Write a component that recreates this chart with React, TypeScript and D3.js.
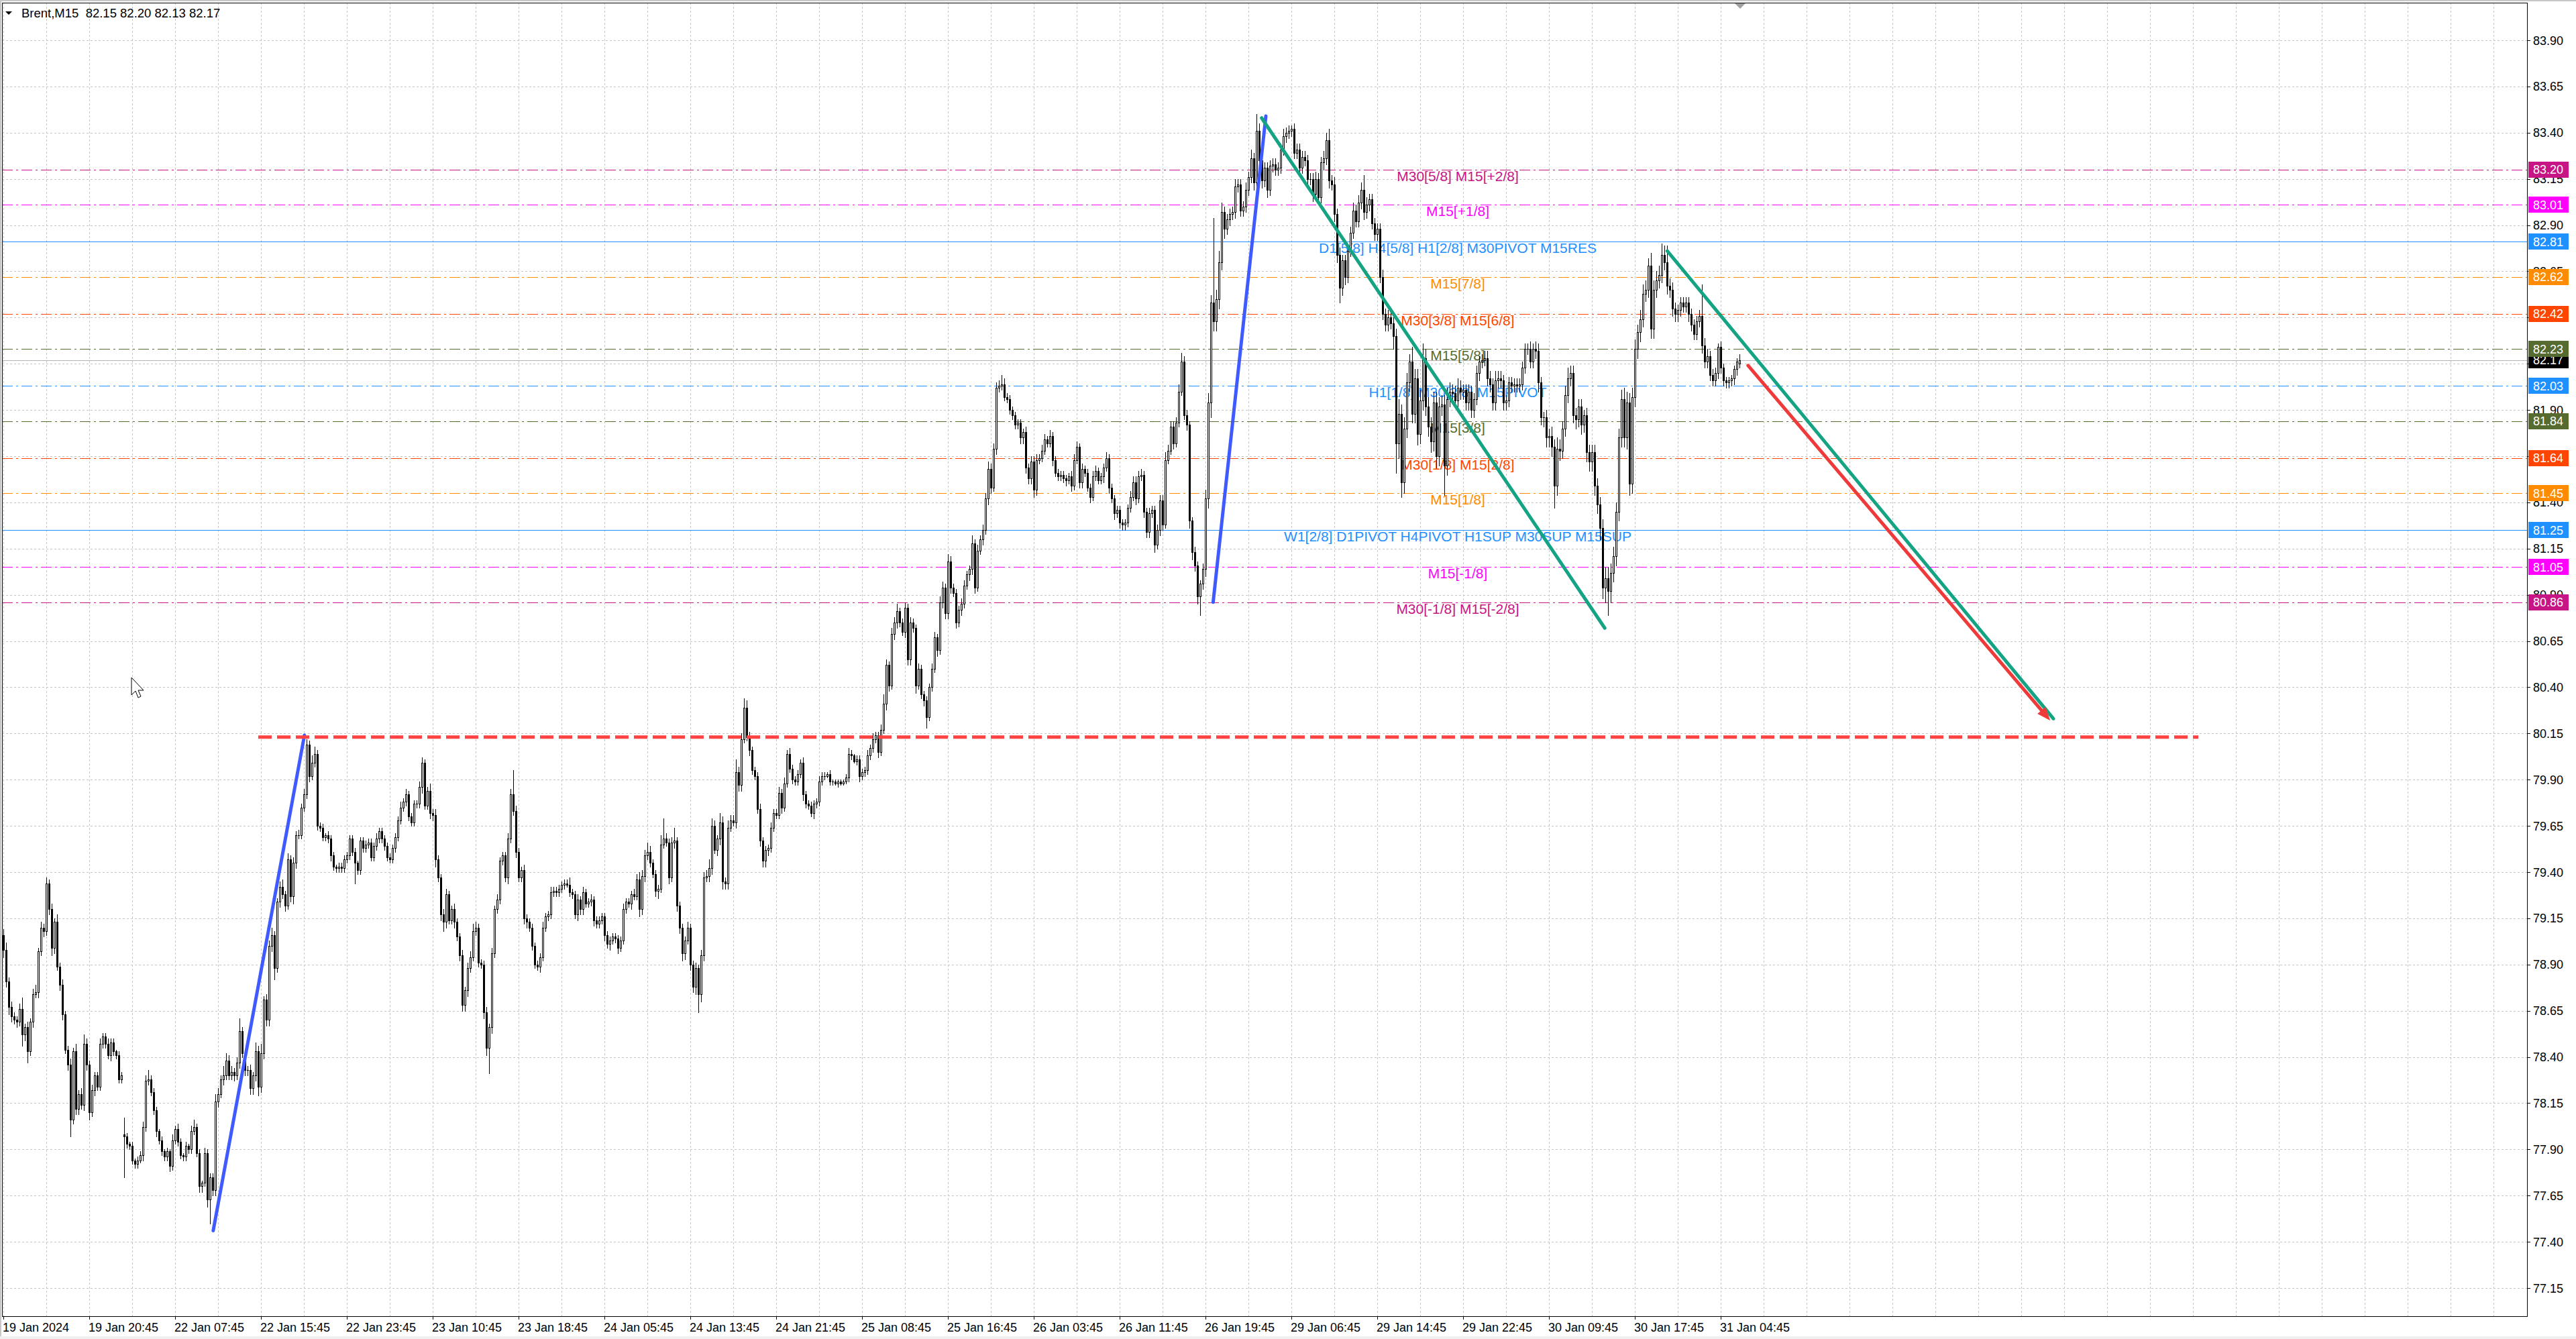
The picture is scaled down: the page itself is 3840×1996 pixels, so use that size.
import React from 'react';
import * as d3 from 'd3';

const W = 3840;
const H = 1996;

const headerText = 'Brent,M15  82.15 82.20 82.13 82.17';
const lastPrice = 82.17;

// M15 closes, one per bar
const closes = [
  78.98, 78.81, 78.67, 78.62, 78.60, 78.59, 78.66, 78.52, 78.56, 78.43, 78.59, 78.74, 78.75, 78.97, 79.10, 79.08,
  79.34, 79.20, 78.99, 79.13, 78.89, 78.79, 78.63, 78.44, 78.36, 78.06, 78.43, 78.12, 78.20, 78.14, 78.47, 78.36,
  78.10, 78.22, 78.30, 78.24, 78.47, 78.51, 78.47, 78.41, 78.48, 78.43, 78.41, 78.28, 78.30, 77.97, 77.93, 77.92,
  77.84, 77.82, 77.84, 77.87, 78.02, 78.27, 78.28, 78.21, 78.11, 78.00, 77.95, 77.89, 77.86, 77.89, 77.81, 77.95,
  78.01, 77.94, 77.87, 77.86, 77.92, 77.90, 78.00, 78.02, 77.88, 77.70, 77.72, 77.88, 77.63, 77.75, 77.68, 78.16,
  78.20, 78.28, 78.30, 78.38, 78.30, 78.32, 78.30, 78.37, 78.54, 78.42, 78.33, 78.33, 78.23, 78.30, 78.43, 78.24,
  78.42, 78.71, 78.60, 79.00, 79.06, 78.88, 79.24, 79.32, 79.28, 79.22, 79.47, 79.27, 79.45, 79.60, 79.60, 79.75,
  79.82, 80.09, 79.92, 79.99, 80.04, 79.65, 79.64, 79.59, 79.60, 79.58, 79.49, 79.43, 79.42, 79.43, 79.42, 79.47,
  79.49, 79.58, 79.51, 79.45, 79.41, 79.57, 79.53, 79.55, 79.56, 79.48, 79.54, 79.58, 79.62, 79.58, 79.54, 79.48,
  79.47, 79.53, 79.59, 79.68, 79.75, 79.78, 79.82, 79.70, 79.67, 79.77, 79.77, 79.86, 79.99, 79.76, 79.84, 79.72,
  79.71, 79.47, 79.37, 79.17, 79.13, 79.28, 79.14, 79.20, 79.13, 79.05, 78.95, 78.68, 78.76, 78.88, 78.94, 79.08,
  79.10, 78.91, 78.90, 78.64, 78.45, 78.56, 78.96, 79.20, 79.25, 79.46, 79.49, 79.37, 79.58, 79.82, 79.73, 79.51,
  79.37, 79.41, 79.15, 79.13, 79.10, 79.00, 78.90, 78.89, 78.94, 79.10, 79.16, 79.17, 79.29, 79.30, 79.29, 79.31,
  79.33, 79.34, 79.33, 79.29, 79.28, 79.17, 79.25, 79.20, 79.29, 79.23, 79.24, 79.25, 79.14, 79.12, 79.14, 79.16,
  79.06, 79.01, 79.03, 79.05, 79.04, 78.99, 79.03, 79.20, 79.24, 79.23, 79.28, 79.27, 79.36, 79.20, 79.38, 79.49,
  79.51, 79.45, 79.39, 79.30, 79.31, 79.55, 79.58, 79.56, 79.37, 79.56, 79.57, 79.22, 79.10, 78.96, 79.03, 79.10,
  78.90, 78.78, 78.88, 78.74, 78.95, 79.37, 79.38, 79.42, 79.65, 79.52, 79.58, 79.67, 79.35, 79.34, 79.64, 79.68,
  79.67, 79.94, 79.87, 80.12, 80.29, 80.13, 80.06, 79.95, 79.92, 79.74, 79.57, 79.46, 79.52, 79.53, 79.64, 79.72,
  79.71, 79.83, 79.75, 79.88, 80.04, 79.96, 79.90, 79.89, 79.93, 79.99, 79.82, 79.77, 79.76, 79.72, 79.77, 79.78,
  79.89, 79.92, 79.92, 79.93, 79.89, 79.89, 79.88, 79.89, 79.88, 79.89, 79.91, 80.04, 80.03, 80.00, 80.01, 79.92,
  79.94, 79.95, 80.03, 80.07, 80.12, 80.14, 80.05, 80.17, 80.31, 80.52, 80.41, 80.69, 80.75, 80.81, 80.75, 80.70,
  80.83, 80.55, 80.75, 80.72, 80.41, 80.50, 80.36, 80.33, 80.24, 80.40, 80.50, 80.67, 80.60, 80.86, 80.94, 80.80,
  81.08, 80.94, 80.91, 80.75, 80.82, 80.85, 80.95, 81.01, 81.04, 81.18, 80.94, 81.14, 81.20, 81.25, 81.42, 81.58,
  81.48, 81.69, 82.02, 82.03, 82.04, 81.97, 81.96, 81.90, 81.87, 81.82, 81.83, 81.75, 81.78, 81.59, 81.53, 81.62,
  81.47, 81.63, 81.64, 81.68, 81.74, 81.72, 81.76, 81.63, 81.56, 81.54, 81.55, 81.53, 81.52, 81.54, 81.49, 81.63,
  81.70, 81.51, 81.58, 81.56, 81.48, 81.43, 81.54, 81.57, 81.52, 81.54, 81.59, 81.64, 81.48, 81.42, 81.34, 81.36,
  81.29, 81.28, 81.29, 81.37, 81.43, 81.51, 81.42, 81.54, 81.55, 81.35, 81.24, 81.34, 81.36, 81.17, 81.25, 81.41,
  81.28, 81.63, 81.68, 81.81, 81.72, 81.83, 82.00, 82.16, 81.87, 81.82, 81.30, 81.13, 81.06, 80.89, 80.96, 81.04,
  81.42, 81.94, 82.48, 82.38, 82.50, 82.70, 82.97, 82.88, 82.93, 82.96, 82.97, 83.11, 83.12, 82.98, 83.00, 83.09,
  83.16, 83.26, 83.13, 83.41, 83.25, 83.14, 83.21, 83.09, 83.22, 83.23, 83.20, 83.21, 83.31, 83.38, 83.40, 83.41,
  83.42, 83.29, 83.31, 83.21, 83.27, 83.25, 83.15, 83.15, 83.07, 83.15, 83.05, 83.24, 83.26, 83.36, 83.14, 83.12,
  82.96, 82.74, 82.56, 82.71, 82.62, 82.76, 82.86, 82.98, 82.92, 83.02, 83.09, 82.97, 83.01, 83.04, 82.91, 82.85,
  82.88, 82.62, 82.42, 82.36, 82.40, 82.37, 82.30, 81.72, 81.88, 81.51, 81.80, 82.05, 82.16, 81.88, 82.07, 81.77,
  81.95, 82.18, 81.92, 81.81, 81.73, 81.94, 81.65, 81.92, 81.93, 81.60, 81.96, 82.00, 81.99, 81.95, 82.02, 82.00,
  82.01, 81.94, 82.00, 81.90, 81.96, 82.10, 82.16, 82.17, 82.18, 82.07, 82.04, 81.94, 82.06, 82.07, 82.06, 81.94,
  81.95, 82.05, 82.03, 82.04, 82.03, 82.04, 82.13, 82.23, 82.23, 82.16, 82.23, 82.22, 82.05, 81.86, 81.86, 81.75,
  81.76, 81.70, 81.49, 81.69, 81.68, 81.80, 81.98, 82.07, 82.10, 81.87, 81.85, 81.92, 81.82, 81.87, 81.67, 81.62,
  81.67, 81.49, 81.39, 81.26, 80.94, 80.99, 80.92, 81.02, 81.11, 81.35, 81.75, 81.96, 81.75, 81.94, 81.50, 81.97,
  82.23, 82.32, 82.39, 82.53, 82.55, 82.68, 82.34, 82.55, 82.60, 82.63, 82.74, 82.70, 82.57, 82.55, 82.45, 82.42,
  82.44, 82.48, 82.46, 82.48, 82.42, 82.36, 82.31, 82.38, 82.41, 82.25, 82.16, 82.19, 82.09, 82.06, 82.10, 82.24,
  82.13, 82.06, 82.05, 82.06, 82.07, 82.12, 82.16, 82.17,
];

// upper / lower shadow lengths in cents
const wickUp = [
  3,4,2,3,2,2,3,6,2,3,2,3,4,2,3,2, 3,2,3,2,4,2,3,2,2,3,2,4,2,3,5,3,
  2,3,2,2,3,2,2,3,2,2,1,2,2,9,2,1, 2,1,2,2,3,3,5,2,2,2,1,2,1,2,1,3,
  2,3,2,1,2,1,3,4,2,2,1,3,2,2,2,4, 3,2,5,4,3,3,2,3,7,2,2,2,3,2,5,3,
  5,2,3,3,4,2,2,3,4,2,3,2,3,2,3,2, 3,3,2,4,4,2,2,2,1,2,2,2,1,2,2,2,
  2,2,2,2,1,2,2,2,2,2,2,3,2,2,2,2, 2,2,2,2,3,2,3,2,2,2,2,3,3,2,2,4,
  2,3,2,2,3,3,2,2,3,2,2,3,2,3,3,4, 3,2,2,2,3,2,3,2,3,2,2,2,3,3,13,3,
  2,2,3,2,2,2,2,2,2,3,2,2,3,2,2,2, 2,2,2,4,2,2,3,2,3,2,2,3,2,2,2,2,
  2,2,2,2,2,2,2,3,2,2,2,3,3,4,3,3, 5,3,2,2,2,5,11,3,2,3,7,2,2,2,2,3,
  2,2,3,2,3,3,3,5,4,3,2,5,3,2,4,3, 3,7,3,3,5,4,3,2,2,2,3,2,2,2,3,2,
  2,3,2,3,2,3,2,2,2,2,3,2,2,2,2,2, 3,2,2,1,2,1,1,1,1,1,2,3,2,1,2,2,
  2,2,3,2,3,2,2,3,5,3,2,3,3,4,2,2, 3,2,3,2,2,3,2,2,2,2,3,3,2,3,3,2,
  4,3,2,2,2,3,3,2,2,4,2,3,2,3,3,4, 3,3,3,3,5,3,2,2,2,2,2,2,2,3,2,3,
  3,3,2,3,3,2,3,2,2,2,2,2,2,2,3,3, 3,2,3,2,2,2,3,3,2,2,2,3,2,2,2,2,
  2,2,2,2,3,3,3,3,3,2,2,3,2,2,3,3, 3,4,3,3,3,3,4,5,3,3,2,2,3,2,2,3,
  5,5,4,46,5,6,5,3,3,3,3,4,3,3,3,4, 3,5,3,9,4,3,3,3,3,3,3,3,3,4,3,3,
  2,3,3,3,3,3,3,3,3,4,3,3,4,4,6,3, 4,3,4,3,3,3,3,4,3,4,4,8,4,3,3,3,
  3,3,4,3,4,3,3,4,8,5,6,5,4,8,5,5, 6,8,5,5,5,6,6,5,5,5,6,5,4,4,5,4,
  3,3,4,3,3,4,3,3,4,4,4,3,5,4,4,3, 3,3,3,3,3,3,3,3,3,4,3,4,4,3,3,4,
  4,5,4,6,5,4,5,6,4,4,4,4,4,3,4,4, 4,4,4,4,5,6,6,5,5,5,5,5,6,6,5,5,
  5,4,5,5,5,4,7,5,5,5,6,5,9,4,4,3, 3,3,3,3,3,3,3,3,3,17,4,4,3,3,3,2,
  3,2,2,2,2,2,2,3,
];
const wickDn = [
  4,3,4,3,2,3,2,6,3,6,2,3,2,3,2,3, 2,3,4,3,2,3,3,2,3,9,2,3,3,2,3,3,
  4,2,3,2,2,2,2,2,3,2,2,2,2,22,2,2, 2,2,2,1,3,2,2,2,2,3,2,2,2,2,3,2,
  2,2,2,2,2,2,2,2,2,3,3,2,4,13,3,3, 3,2,3,2,2,2,3,2,3,2,3,3,3,3,3,5,
  3,3,3,3,3,6,2,3,2,3,2,3,4,3,2,2, 2,2,3,2,2,2,2,2,2,2,3,2,2,2,2,2,
  2,2,2,11,2,2,2,2,2,2,2,2,2,2,2,2, 2,2,2,2,2,2,2,2,2,2,2,2,3,2,2,3,
  3,4,2,3,5,3,2,2,3,2,3,3,3,3,2,2, 2,2,2,3,4,14,3,2,2,2,2,2,3,2,2,3,
  2,2,3,3,2,2,2,2,3,2,2,2,2,2,2,2, 2,2,1,2,2,2,3,3,3,2,2,2,3,2,2,2,
  3,2,3,2,2,3,2,2,2,2,3,2,2,4,3,3, 2,2,2,3,4,2,2,2,3,2,3,3,3,4,3,2,
  3,3,4,10,4,3,2,3,3,2,3,3,4,3,3,2, 2,3,3,3,2,2,3,2,2,2,3,3,3,3,2,2,
  2,2,3,2,2,2,2,2,2,2,3,2,2,2,3,2, 2,2,2,1,2,2,1,2,1,1,1,2,2,1,2,3,
  2,2,2,2,2,2,3,2,2,3,3,2,3,3,2,2, 3,3,3,2,4,2,2,3,6,2,2,2,3,2,3,3,
  3,3,2,3,2,3,2,2,3,3,3,2,2,3,2,3, 3,2,3,2,2,2,2,2,2,2,2,3,3,3,3,3,
  4,3,2,2,2,2,2,3,2,2,2,2,3,2,3,2, 2,3,3,2,2,3,2,2,2,2,3,2,3,2,3,2,
  3,3,3,2,2,2,3,2,2,3,3,3,2,4,2,3, 3,2,2,2,3,2,2,2,2,3,4,4,3,4,10,3,
  4,5,8,5,5,5,4,5,3,3,3,3,3,3,3,3, 3,3,4,4,4,4,3,4,3,3,3,3,3,3,3,3,
  3,3,3,3,3,3,3,3,4,3,3,3,4,3,4,3, 4,4,8,4,4,3,3,3,3,3,3,4,3,3,3,3,
  3,3,3,3,3,3,7,16,8,8,6,5,5,5,5,6, 5,5,5,5,6,5,6,5,5,16,5,4,4,4,4,4,
  4,4,4,4,4,3,4,3,3,4,4,4,4,4,4,4, 4,3,3,3,3,3,3,3,3,3,3,4,5,4,5,5,
  5,5,12,5,5,4,4,4,4,4,5,4,5,4,5,5, 5,5,5,6,6,8,13,6,5,5,5,5,5,6,6,5,
  5,5,5,4,4,4,5,5,4,4,4,4,4,4,4,4, 4,3,3,3,4,3,3,3,3,4,3,3,3,3,3,3,
  3,3,3,3,3,3,3,2,
];

// bars whose open is not the previous close (first bar, weekend gap, live bar)
const gapBars = [0, 45, 647];
const gapOpens = [79.06, 77.98, 82.15];

const priceTicks = [
  83.9, 83.65, 83.4, 83.15, 82.9, 82.65, 82.4, 82.15, 81.9, 81.65, 81.4, 81.15, 80.9, 80.65,
  80.4, 80.15, 79.9, 79.65, 79.4, 79.15, 78.9, 78.65, 78.4, 78.15, 77.9, 77.65, 77.4, 77.15,
];

const timeLabels = [
  '19 Jan 2024', '19 Jan 20:45', '22 Jan 07:45', '22 Jan 15:45', '22 Jan 23:45', '23 Jan 10:45',
  '23 Jan 18:45', '24 Jan 05:45', '24 Jan 13:45', '24 Jan 21:45', '25 Jan 08:45', '25 Jan 16:45',
  '26 Jan 03:45', '26 Jan 11:45', '26 Jan 19:45', '29 Jan 06:45', '29 Jan 14:45', '29 Jan 22:45',
  '30 Jan 09:45', '30 Jan 17:45', '31 Jan 04:45',
];

// Murrey math levels
const levelPrices = [83.20, 83.01, 82.81, 82.62, 82.42, 82.23, 82.03, 81.84, 81.64, 81.45, 81.25, 81.05, 80.86];
const levelColors = ['#C71585', '#FF00FF', '#1E90FF', '#FF8C00', '#FF4500', '#556B2F', '#1E90FF', '#556B2F', '#FF4500', '#FF8C00', '#1E90FF', '#FF00FF', '#C71585'];
const levelSolid = [false, false, true, false, false, false, false, false, false, false, true, false, false];
const levelTexts = [
  'M30[5/8] M15[+2/8]', 'M15[+1/8]', 'D1[5/8] H4[5/8] H1[2/8] M30PIVOT M15RES', 'M15[7/8]',
  'M30[3/8] M15[6/8]', 'M15[5/8]', 'H1[1/8] M30[2/8] M15PIVOT', 'M15[3/8]', 'M30[1/8] M15[2/8]',
  'M15[1/8]', 'W1[2/8] D1PIVOT H4PIVOT H1SUP M30SUP M15SUP', 'M15[-1/8]', 'M30[-1/8] M15[-2/8]',
];
const levelTextBar = 542;

// hand drawn trend lines: [bar, price] pairs
const blueLines = [[[78.2, 77.46], [112.2, 80.14]], [[450.85, 80.86], [470.5, 83.49]]];
const greenLines = [[[468.9, 83.48], [596.8, 80.72]], [[620.1, 82.76], [764, 80.23]]];
const targetLine = [[95, 80.13], [818, 80.13]];
const arrowLine = [[650.2, 82.14], [762.8, 80.22]];

const FONT = "'Liberation Sans', Arial, sans-serif";

export default function App() {
  const n = closes.length;
  const x = d3.scaleLinear().domain([0, n - 1]).range([5, 5 + 4 * (n - 1)]);
  const y = d3.scaleLinear().domain([77.15, 83.9]).range([1920, 60]);
  const plot = { left: 3, right: 3767, top: 4, bottom: 1962 };

  const candles = closes.map((c, i) => {
    const g = gapBars.indexOf(i);
    const o = g >= 0 ? gapOpens[g] : closes[i - 1];
    const hi = Math.max(o, c) + (wickUp[i] || 0) / 100;
    const lo = Math.min(o, c) - (wickDn[i] || 0) / 100;
    return { i, o, c, hi, lo };
  });

  const vGrid = d3.range(0, 59).map((k) => x(k * 16));

  const arrowEnd = arrowLine[1];
  const ax0 = x(arrowLine[0][0]), ay0 = y(arrowLine[0][1]);
  const ax1 = x(arrowEnd[0]), ay1 = y(arrowEnd[1]);
  const ang = Math.atan2(ay1 - ay0, ax1 - ax0);
  const headLen = 20, headW = 8;
  const hx = ax1 - headLen * Math.cos(ang), hy = ay1 - headLen * Math.sin(ang);
  const arrowHead = [
    [ax1, ay1],
    [hx + headW * Math.sin(ang), hy - headW * Math.cos(ang)],
    [hx - headW * Math.sin(ang), hy + headW * Math.cos(ang)],
  ];

  return (
    <svg width={W} height={H} style={{ position: 'absolute', left: 0, top: 0, background: '#fff' }} fontFamily={FONT}>
      <defs>
        <clipPath id="plotClip">
          <rect x={plot.left} y={plot.top} width={plot.right - plot.left} height={plot.bottom - plot.top} />
        </clipPath>
      </defs>
      <rect x={0} y={0} width={W} height={H} fill="#fff" />
      <rect x={0} y={0} width={W} height={2} fill="#c8c8c8" />
      <rect x={0} y={0} width={2} height={H} fill="#c8c8c8" />
      <rect x={0} y={1992} width={W} height={4} fill="#f0f0f0" />

      <g clipPath="url(#plotClip)">
        {/* grid */}
        <g stroke="#c4c4c4" strokeWidth={1} strokeDasharray="3 3" shapeRendering="crispEdges">
          {priceTicks.map((p) => (
            <line key={'h' + p} x1={plot.left} x2={plot.right} y1={Math.round(y(p)) + 0.5} y2={Math.round(y(p)) + 0.5} />
          ))}
          {vGrid.map((vx) => (
            <line key={'v' + vx} x1={vx + 0.5} x2={vx + 0.5} y1={plot.top} y2={plot.bottom} />
          ))}
        </g>

        {/* level lines */}
        <g shapeRendering="crispEdges">
          {levelPrices.map((p, k) => (
            <line key={'l' + k} x1={plot.left} x2={plot.right} y1={Math.round(y(p)) + 0.5} y2={Math.round(y(p)) + 0.5}
              stroke={levelColors[k]} strokeWidth={1} strokeDasharray={levelSolid[k] ? undefined : '16 5 3 5'} />
          ))}
          <line x1={plot.left} x2={plot.right} y1={Math.round(y(lastPrice)) + 0.5} y2={Math.round(y(lastPrice)) + 0.5} stroke="#b4b4b4" strokeWidth={1} />
        </g>

        {/* level captions */}
        <g fontSize={21} textAnchor="middle">
          {levelPrices.map((p, k) => (
            <text key={'t' + k} x={x(levelTextBar)} y={y(p) + 17} fill={levelColors[k]}>{levelTexts[k]}</text>
          ))}
        </g>

        {/* candles */}
        <g shapeRendering="crispEdges">
          {candles.map((d) => {
            const cx = x(d.i);
            const top = Math.round(y(Math.max(d.o, d.c)));
            const bot = Math.round(y(Math.min(d.o, d.c)));
            const bull = d.c > d.o;
            return (
              <g key={d.i}>
                <line x1={cx + 0.5} x2={cx + 0.5} y1={Math.round(y(d.hi))} y2={Math.round(y(d.lo)) + 1} stroke="#000" strokeWidth={1} />
                {bot - top < 2 ? (
                  <rect x={cx - 1} y={top} width={3} height={1} fill="#000" />
                ) : bull ? (
                  <rect x={cx - 0.5} y={top + 0.5} width={2} height={bot - top} fill="#fff" stroke="#000" strokeWidth={1} />
                ) : (
                  <rect x={cx - 1} y={top} width={3} height={bot - top + 1} fill="#000" />
                )}
              </g>
            );
          })}
        </g>

        {/* trend lines */}
        <g strokeLinecap="round" fill="none">
          {blueLines.map((l, k) => (
            <line key={'b' + k} x1={x(l[0][0])} y1={y(l[0][1])} x2={x(l[1][0])} y2={y(l[1][1])} stroke="#3f5bff" strokeWidth={5} />
          ))}
          {greenLines.map((l, k) => (
            <line key={'g' + k} x1={x(l[0][0])} y1={y(l[0][1])} x2={x(l[1][0])} y2={y(l[1][1])} stroke="#14a383" strokeWidth={5} />
          ))}
          <line x1={x(targetLine[0][0])} y1={y(targetLine[0][1])} x2={x(targetLine[1][0])} y2={y(targetLine[1][1])}
            stroke="#ff4242" strokeWidth={5} strokeDasharray="20 8" strokeLinecap="butt" />
          <line x1={ax0} y1={ay0} x2={hx} y2={hy} stroke="#f03a3a" strokeWidth={5} />
          <polygon points={arrowHead.map((p) => p.join(',')).join(' ')} fill="#f03a3a" />
        </g>
      </g>

      {/* frame */}
      <rect x={plot.left + 0.5} y={plot.top + 0.5} width={plot.right - plot.left} height={plot.bottom - plot.top} fill="none" stroke="#000" strokeWidth={1} shapeRendering="crispEdges" />

      {/* chart shift marker */}
      <polygon points={`${x(n - 1) - 7},${plot.top + 1} ${x(n - 1) + 9},${plot.top + 1} ${x(n - 1) + 1},${plot.top + 9}`} fill="#a0a0a0" />

      {/* header */}
      <polygon points="8,17 18,17 13,22" fill="#000" />
      <text x={32} y={26} fontSize={18.5} fill="#000" style={{ whiteSpace: 'pre' }}>{headerText}</text>

      {/* price axis */}
      <g fontSize={18} fill="#000">
        {priceTicks.map((p) => (
          <g key={'pt' + p}>
            <line x1={plot.right} x2={plot.right + 5} y1={Math.round(y(p)) + 0.5} y2={Math.round(y(p)) + 0.5} stroke="#000" shapeRendering="crispEdges" />
            <text x={3776} y={y(p) + 6.5}>{p.toFixed(2)}</text>
          </g>
        ))}
      </g>
      <g fontSize={18}>
        <rect x={plot.right + 2} y={Math.round(y(lastPrice)) - 12} width={60} height={24} fill="#000" />
        <text x={3776} y={y(lastPrice) + 6.5} fill="#fff">{lastPrice.toFixed(2)}</text>
        {levelPrices.map((p, k) => (
          <g key={'lb' + k}>
            <rect x={plot.right + 2} y={Math.round(y(p)) - 12} width={60} height={24} fill={levelColors[k]} />
            <text x={3776} y={y(p) + 6.5} fill="#fff">{p.toFixed(2)}</text>
          </g>
        ))}
      </g>

      {/* time axis */}
      <g fontSize={18} fill="#000">
        {timeLabels.map((t, k) => (
          <g key={t}>
            <line x1={x(k * 32) + 0.5} x2={x(k * 32) + 0.5} y1={plot.bottom} y2={plot.bottom + 5} stroke="#000" shapeRendering="crispEdges" />
            <text x={x(k * 32) - 1} y={1985}>{t}</text>
          </g>
        ))}
      </g>

      {/* mouse pointer */}
      <path d="M196,1010 L196,1036 L202,1030 L206,1040 L210,1038 L206,1029 L214,1029 Z" fill="#fff" stroke="#000" strokeWidth={1} />
    </svg>
  );
}
